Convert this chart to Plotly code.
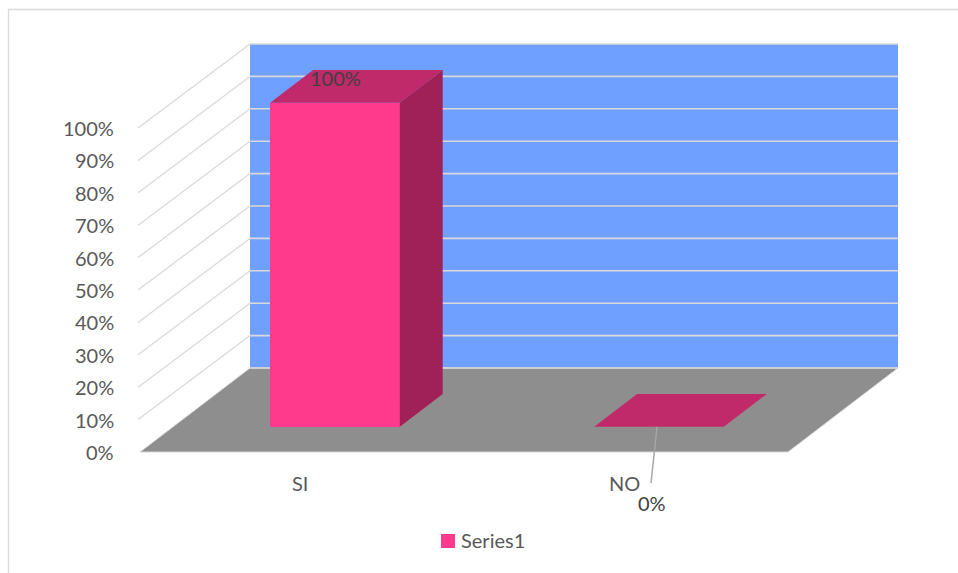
import plotly.graph_objects as go

# ---- data ----
categories = ["SI", "NO"]
values = [100, 0]
series_name = "Series1"
tick_values = [0, 10, 20, 30, 40, 50, 60, 70, 80, 90, 100]
tick_labels = ["0%", "10%", "20%", "30%", "40%", "50%", "60%", "70%", "80%", "90%", "100%"]
value_labels = ["100%", "0%"]

# ---- style / layout constants ----
W, H = 958, 573
PX_X = 324.0          # pixels per category unit
PX_Y = 3.24           # pixels per percent
X0_PIX = 140          # pixel of front-left floor corner
Y0_PIX = 452          # pixel of 0% on the front
DX = 110 / PX_X       # depth vector (x units)
DY = 84 / PX_Y        # depth vector (percent units)
D_FRONT, D_BACK = 0.30, 0.69
BAR_W = 0.40

FRONT = "#ff398b"
SIDE = "#a02158"
TOP = "#c0296a"
WALL = "#70a0ff"
FLOOR = "#8e8e8e"
GRID = "#d9d9d9"
TXT = "#595959"
FONT = "Lato"

x_lo = -0.5 - X0_PIX / PX_X
x_hi = x_lo + W / PX_X
y_hi = Y0_PIX / PX_Y
y_lo = y_hi - H / PX_Y

n = len(categories)
xs = list(range(n))
xl, xr = -0.5, n - 0.5

def poly(pts):
    return "M " + " L ".join(f"{a},{b}" for a, b in pts) + " Z"

shapes = []
# back wall
shapes.append(dict(type="path", xref="x", yref="y", layer="below",
                   path=poly([(xl + DX, DY), (xr + DX, DY), (xr + DX, 100 + DY), (xl + DX, 100 + DY)]),
                   fillcolor=WALL, line=dict(width=0)))
# floor
shapes.append(dict(type="path", xref="x", yref="y", layer="below",
                   path=poly([(xl, 0), (xr, 0), (xr + DX, DY), (xl + DX, DY)]),
                   fillcolor=FLOOR, line=dict(color=GRID, width=1)))
# grid lines: side wall + back wall
for v in tick_values:
    if v > 0:
        shapes.append(dict(type="line", xref="x", yref="y", layer="below",
                           x0=xl - 0.006, y0=v, x1=xl + DX, y1=v + DY,
                           line=dict(color=GRID, width=1.3)))
    shapes.append(dict(type="line", xref="x", yref="y", layer="below",
                       x0=xl + DX, y0=v + DY, x1=xr + DX, y1=v + DY,
                       line=dict(color=GRID, width=1.6)))

bar_x = [x + D_FRONT * DX for x in xs]
base = D_FRONT * DY
ddx = (D_BACK - D_FRONT) * DX
ddy = (D_BACK - D_FRONT) * DY

for bx, v in zip(bar_x, values):
    l, r = bx - BAR_W / 2, bx + BAR_W / 2
    top = base + v
    # top face
    shapes.append(dict(type="path", xref="x", yref="y", layer="above",
                       path=poly([(l, top), (r, top), (r + ddx, top + ddy), (l + ddx, top + ddy)]),
                       fillcolor=TOP, line=dict(width=0)))
    if v > 0:
        # side face
        shapes.append(dict(type="path", xref="x", yref="y", layer="above",
                           path=poly([(r, base), (r + ddx, base + ddy), (r + ddx, top + ddy), (r, top)]),
                           fillcolor=SIDE, line=dict(width=0)))

fig = go.Figure()
fig.add_trace(go.Bar(x=bar_x, y=values, base=base, width=BAR_W, name=series_name,
                     marker=dict(color=FRONT, line=dict(width=0)),
                     showlegend=False, hoverinfo="skip"))

annotations = []
# y tick labels
for v, t in zip(tick_values, tick_labels):
    annotations.append(dict(x=xl - 24 / PX_X, y=v, xref="x", yref="y", text=t,
                            showarrow=False, xanchor="right", yanchor="middle",
                            font=dict(family=FONT, size=20, color=TXT)))
# category labels
for x, c in zip(xs, categories):
    annotations.append(dict(x=x - 2 / PX_X, y=-31 / PX_Y, xref="x", yref="y", text=c,
                            showarrow=False, xanchor="center", yanchor="middle",
                            font=dict(family=FONT, size=20, color=TXT)))
# value labels
for i, (bx, v, lab) in enumerate(zip(bar_x, values, value_labels)):
    if v > 0:
        annotations.append(dict(x=bx, y=base + v + 7.6, xref="x", yref="y", text=lab,
                                showarrow=False, xanchor="center", yanchor="middle",
                                font=dict(family=FONT, size=20, color="#404040")))
    else:
        lx, ly = bx - 7 / PX_X, -51 / PX_Y
        annotations.append(dict(x=lx, y=ly, xref="x", yref="y", text=lab,
                                showarrow=False, xanchor="center", yanchor="middle",
                                font=dict(family=FONT, size=20, color="#404040")))
        shapes.append(dict(type="line", xref="x", yref="y", layer="above",
                           x0=bx - 2 / PX_X, y0=base + v, x1=bx - 8 / PX_X, y1=-31 / PX_Y,
                           line=dict(color="#a6a6a6", width=1.5)))

# legend (square + name)
shapes.append(dict(type="rect", xref="paper", yref="paper",
                   x0=441 / W, x1=455 / W, y0=1 - 548 / H, y1=1 - 534 / H,
                   fillcolor=FRONT, line=dict(width=0)))
annotations.append(dict(x=459 / W, y=1 - 540 / H, xref="paper", yref="paper", text=series_name,
                        showarrow=False, xanchor="left", yanchor="middle",
                        font=dict(family=FONT, size=20, color=TXT)))
# chart border
shapes.append(dict(type="rect", xref="paper", yref="paper",
                   x0=8.5 / W, x1=1.05, y0=-0.05, y1=1 - 9.5 / H,
                   fillcolor="rgba(0,0,0,0)", line=dict(color=GRID, width=1.3)))

fig.update_layout(
    width=W, height=H,
    margin=dict(l=0, r=0, t=0, b=0),
    paper_bgcolor="white", plot_bgcolor="white",
    xaxis=dict(range=[x_lo, x_hi], visible=False, fixedrange=True),
    yaxis=dict(range=[y_lo, y_hi], visible=False, fixedrange=True),
    shapes=shapes, annotations=annotations,
    showlegend=False, bargap=0,
)
fig.write_html("out.html", config={"displayModeBar": False},
               post_script="document.body.style.margin='0px';document.body.style.overflow='hidden';")
